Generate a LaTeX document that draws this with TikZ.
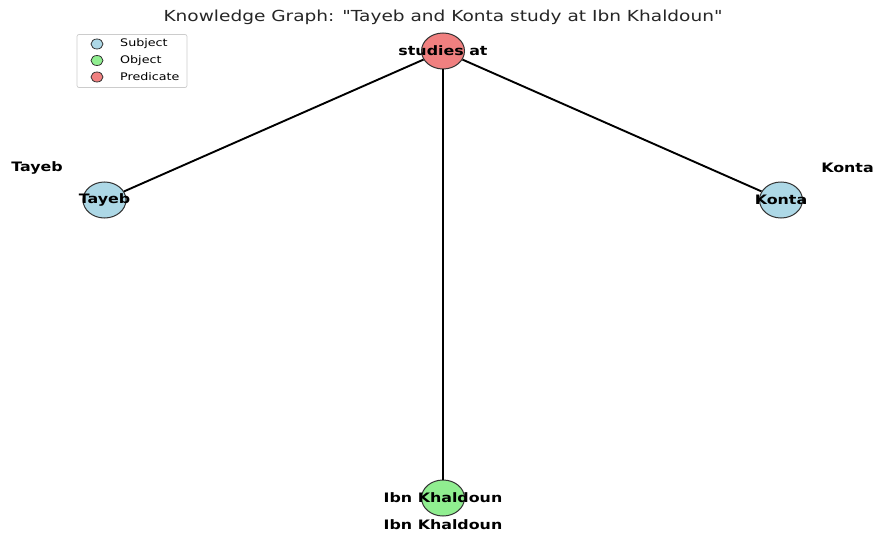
\documentclass[tikz,border=0pt]{standalone}
\usepackage{fontspec}
\setmainfont[FakeStretch=1.22]{DejaVu Sans}
\newfontfamily\plainfont[FakeStretch=1.22, Ligatures=ResetAll]{DejaVu Sans}
\usetikzlibrary{shapes.geometric}
\definecolor{subjcol}{HTML}{ADD8E6}
\definecolor{objcol}{HTML}{90EE90}
\definecolor{predcol}{HTML}{F08080}
\definecolor{rimcol}{HTML}{333333}
\begin{document}
\begin{tikzpicture}[x=1pt,y=-1pt,
  entity/.style={ellipse, draw=rimcol, line width=1pt,
    minimum width=43pt, minimum height=36pt, inner sep=0pt},
  bold/.style={font=\bfseries\fontsize{13}{15}\selectfont, inner sep=0pt},
  edge/.style={line width=1.9pt, black},
  keymark/.style={ellipse, draw=rimcol, line width=0.8pt,
    minimum width=12pt, minimum height=10pt, inner sep=0pt},
  keytext/.style={font=\fontsize{10.4}{12}\selectfont, anchor=west, inner sep=0pt}]
\useasboundingbox (0,0) rectangle (874,532);

% title
\node[font=\plainfont\fontsize{15.2}{18}\selectfont, text=black!85, inner sep=0pt] (title) at (443,17)
  {Knowledge Graph: "Tayeb and Konta study at Ibn Khaldoun"};

% legend
\node[draw=black!20, line width=0.7pt, rounded corners=2pt, fill=white,
  minimum width=110pt, minimum height=53pt, inner sep=0pt] (key) at (132,61) {};
\node[keymark, fill=subjcol] (ksub) at (97,44) {};
\node[keymark, fill=objcol] (kobj) at (97,60.5) {};
\node[keymark, fill=predcol] (kpred) at (97,77) {};
\node[keytext] (tsub) at (120,44) {Subject};
\node[keytext] (tobj) at (120,60.5) {Object};
\node[keytext] (tpred) at (120,77) {Predicate};

% graph nodes
\node[entity, fill=predcol, label={[bold]center:studies at}] (pred) at (443,51) {};
\node[entity, fill=subjcol, label={[bold]center:Tayeb}] (tayeb) at (104.5,200) {};
\node[entity, fill=subjcol, label={[bold]center:Konta}] (konta) at (781,200) {};
\node[entity, fill=objcol, label={[bold]center:Ibn Khaldoun}] (ibn) at (443,498) {};

% connectors
\draw[edge] (pred) -- (tayeb);
\draw[edge] (pred) -- (konta);
\draw[edge] (pred) -- (ibn);

% outer labels
\node[bold] (ltayeb) at (37,168) {Tayeb};
\node[bold] (lkonta) at (847.5,168) {Konta};
\node[bold] (libn) at (443,525) {Ibn Khaldoun};
\end{tikzpicture}
\end{document}
